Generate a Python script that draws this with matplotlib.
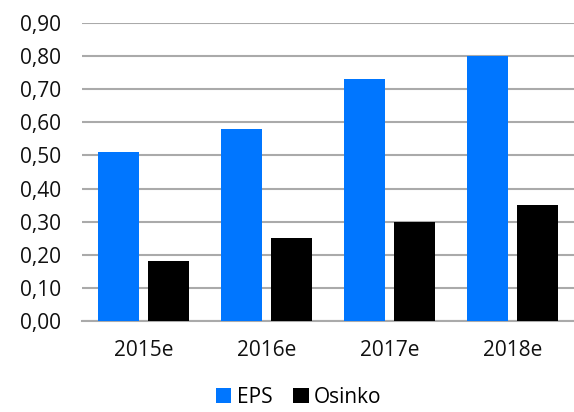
import numpy as np
import matplotlib.pyplot as plt
from matplotlib.ticker import FuncFormatter

years = ['2015e', '2016e', '2017e', '2018e']
eps = [0.51, 0.58, 0.73, 0.80]
osinko = [0.18, 0.25, 0.30, 0.35]

plt.rcParams['font.family'] = ['Open Sans', 'DejaVu Sans']

fig = plt.figure(figsize=(5.74, 4.12), dpi=100)
ax = fig.add_axes([82 / 574, 1 - 321 / 412, 492 / 574, 298 / 412])

x = np.arange(len(years))
w = 0.33
ax.bar(x - 0.205, eps, w, color='#0076FF', label='EPS', zorder=3)
ax.bar(x + 0.205, osinko, w, color='#000000', label='Osinko', zorder=3)

ax.set_xlim(-0.5, 3.5)
ax.set_ylim(0, 0.9)
ax.set_yticks(np.arange(0, 0.91, 0.1))
ax.yaxis.set_major_formatter(FuncFormatter(lambda v, p: f'{v:.2f}'.replace('.', ',')))
ax.set_xticks(x)
ax.set_xticklabels(years)
ax.grid(axis='y', color='#AAAAAA', linewidth=1.5, zorder=0)
ax.tick_params(length=0, labelsize=15, colors='#111111')
ax.tick_params(axis='y', pad=15)
ax.tick_params(axis='x', pad=14)
for s in ['top', 'right', 'left']:
    ax.spines[s].set_visible(False)
ax.spines['bottom'].set_color('#AAAAAA')
ax.spines['bottom'].set_linewidth(1.5)

fig.legend(loc='lower center', bbox_to_anchor=(0.52, -0.035), ncol=2, frameon=False,
           fontsize=15, handlelength=0.75, handleheight=0.75, handletextpad=0.25,
           columnspacing=1.0)

fig.savefig('out.png', dpi=100)
